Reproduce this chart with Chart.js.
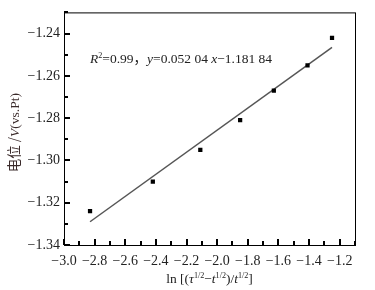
<!DOCTYPE html>
<html>
<head>
<meta charset="utf-8">
<script src="https://cdn.jsdelivr.net/npm/chart.js@4/dist/chart.umd.min.js"></script>
<style>
  html, body { margin: 0; padding: 0; background: #fff; }
  #wrap { width: 375px; height: 290px; position: relative; }
</style>
</head>
<body>
<div id="wrap"><canvas id="potentialChart"></canvas></div>
<script>
// values
const lnX = [-2.83, -2.42, -2.11, -1.85, -1.63, -1.41, -1.25];
const potential = [-1.324, -1.310, -1.295, -1.281, -1.267, -1.255, -1.242];
const fitX = [-2.83, -1.25];
const fitY = [-1.329, -1.2465];
const xRange = [-3.0, -1.1];
const yRange = [-1.34, -1.23];
const xStep = 0.1;
const yStep = 0.01;

const serif = '"Liberation Serif", "DejaVu Serif", serif';
const cjk = '"Noto Sans CJK SC", sans-serif';

function points(xs, ys) {
    return xs.map((x, i) => ({ x: x, y: ys[i] }));
}

// draws a row of text pieces, each {t, it, sup}
function drawRich(ctx, parts, x, y, size, align) {
    let widths = parts.map(p => {
        ctx.font = (p.it ? 'italic ' : '') + (p.sup ? size * 0.6 : size) + 'px ' + (p.cjk ? cjk : serif);
        return ctx.measureText(p.t).width;
    });
    let total = widths.reduce((a, b) => a + b, 0);
    let cx = align === 'center' ? x - total / 2 : x;
    parts.forEach((p, i) => {
        ctx.font = (p.it ? 'italic ' : '') + (p.sup ? size * 0.6 : size) + 'px ' + (p.cjk ? cjk : serif);
        ctx.fillText(p.t, cx, p.sup ? y - size * 0.4 : y);
        cx += widths[i];
    });
}

// inward tick marks, every second one longer
function drawTicks(ctx, chart) {
    const a = chart.chartArea;
    const xs = chart.scales.x, ys = chart.scales.y;
    ctx.fillStyle = '#000';
    let n = Math.round((xRange[1] - xRange[0]) / xStep);
    for (let i = 0; i <= n; i++) {
        const px = Math.round(xs.getPixelForValue(xRange[0] + i * xStep));
        const len = i % 2 === 0 ? 6 : 4;
        ctx.fillRect(px - 1, a.bottom - len, 2, len);
    }
    n = Math.round((yRange[1] - yRange[0]) / yStep);
    for (let i = 0; i <= n; i++) {
        const py = Math.round(ys.getPixelForValue(yRange[0] + i * yStep));
        const len = i % 2 === 0 ? 6 : 4;
        ctx.fillRect(a.left, py - 1, len, 2);
    }
}

const framePlugin = {
    id: 'frame',
    afterDraw(chart) {
        const ctx = chart.ctx;
        const a = chart.chartArea;
        ctx.save();
        ctx.strokeStyle = '#000';
        ctx.lineWidth = 1;
        ctx.strokeRect(a.left + 0.5, a.top + 0.5, a.right - a.left, a.bottom - a.top);
        drawTicks(ctx, chart);

        ctx.fillStyle = '#222';
        ctx.textBaseline = 'alphabetic';
        ctx.textAlign = 'left';
        // fit equation
        drawRich(ctx, [
            { t: 'R', it: true }, { t: '2', sup: true }, { t: '=0.99' }, { t: '，', cjk: true },
            { t: 'y', it: true }, { t: '=0.052 04 ' }, { t: 'x', it: true }, { t: '\u22121.181 84' }
        ], a.left + 26, 63, 13.5, 'left');

        // x axis title
        drawRich(ctx, [
            { t: 'ln [(' }, { t: '\u03c4', it: true }, { t: '1/2', sup: true }, { t: '\u2212' },
            { t: 't', it: true }, { t: '1/2', sup: true }, { t: ')/' },
            { t: 't', it: true }, { t: '1/2', sup: true }, { t: ']' }
        ], (a.left + a.right) / 2, 283, 13.5, 'center');

        // y axis title
        ctx.translate(19, (a.top + a.bottom) / 2 + 4);
        ctx.rotate(-Math.PI / 2);
        ctx.fillStyle = '#3a2a2a';
        drawRich(ctx, [
            { t: '电位 /', cjk: true }, { t: 'V', it: true }, { t: '(vs.Pt)' }
        ], 0, 0, 13.5, 'center');
        ctx.restore();
    }
};

const ctx = document.getElementById('potentialChart');

new Chart(ctx, {
    type: 'scatter',
    data: {
        datasets: [{
            label: 'data',
            data: points(lnX, potential),
            pointStyle: 'rect',
            pointRadius: 3,
            backgroundColor: '#000',
            borderColor: '#000',
            borderWidth: 0
        }, {
            label: 'fit',
            type: 'line',
            data: points(fitX, fitY),
            borderColor: '#555',
            borderWidth: 1.5,
            pointRadius: 0,
            fill: false
        }]
    },
    options: {
        responsive: true,
        maintainAspectRatio: false,
        animation: false,
        layout: { padding: { top: 10, right: 20, left: 0, bottom: 0 } },
        plugins: {
            legend: { display: false },
            tooltip: { enabled: false }
        },
        scales: {
            x: {
                type: 'linear',
                min: xRange[0],
                max: xRange[1],
                afterFit: s => { s.height = 45; },
                border: { color: '#000', width: 1 },
                grid: { drawOnChartArea: false, drawTicks: false },
                ticks: {
                    stepSize: xStep,
                    padding: 8,
                    maxRotation: 0,
                    autoSkip: false,
                    color: '#222',
                    font: { family: serif, size: 14 },
                    callback: v => Math.round(v * 10) % 2 === 0 ? '\u2212' + Math.abs(v).toFixed(1) : ''
                }
            },
            y: {
                min: yRange[0],
                max: yRange[1],
                afterFit: s => { s.width = 64; },
                border: { color: '#000', width: 1 },
                grid: { drawOnChartArea: false, drawTicks: false },
                ticks: {
                    stepSize: yStep,
                    padding: 4,
                    autoSkip: false,
                    color: '#222',
                    font: { family: serif, size: 14 },
                    callback: v => Math.round(v * 100) % 2 === 0 ? '\u2212' + Math.abs(v).toFixed(2) : ''
                }
            }
        }
    },
    plugins: [framePlugin]
});
</script>
</body>
</html>
